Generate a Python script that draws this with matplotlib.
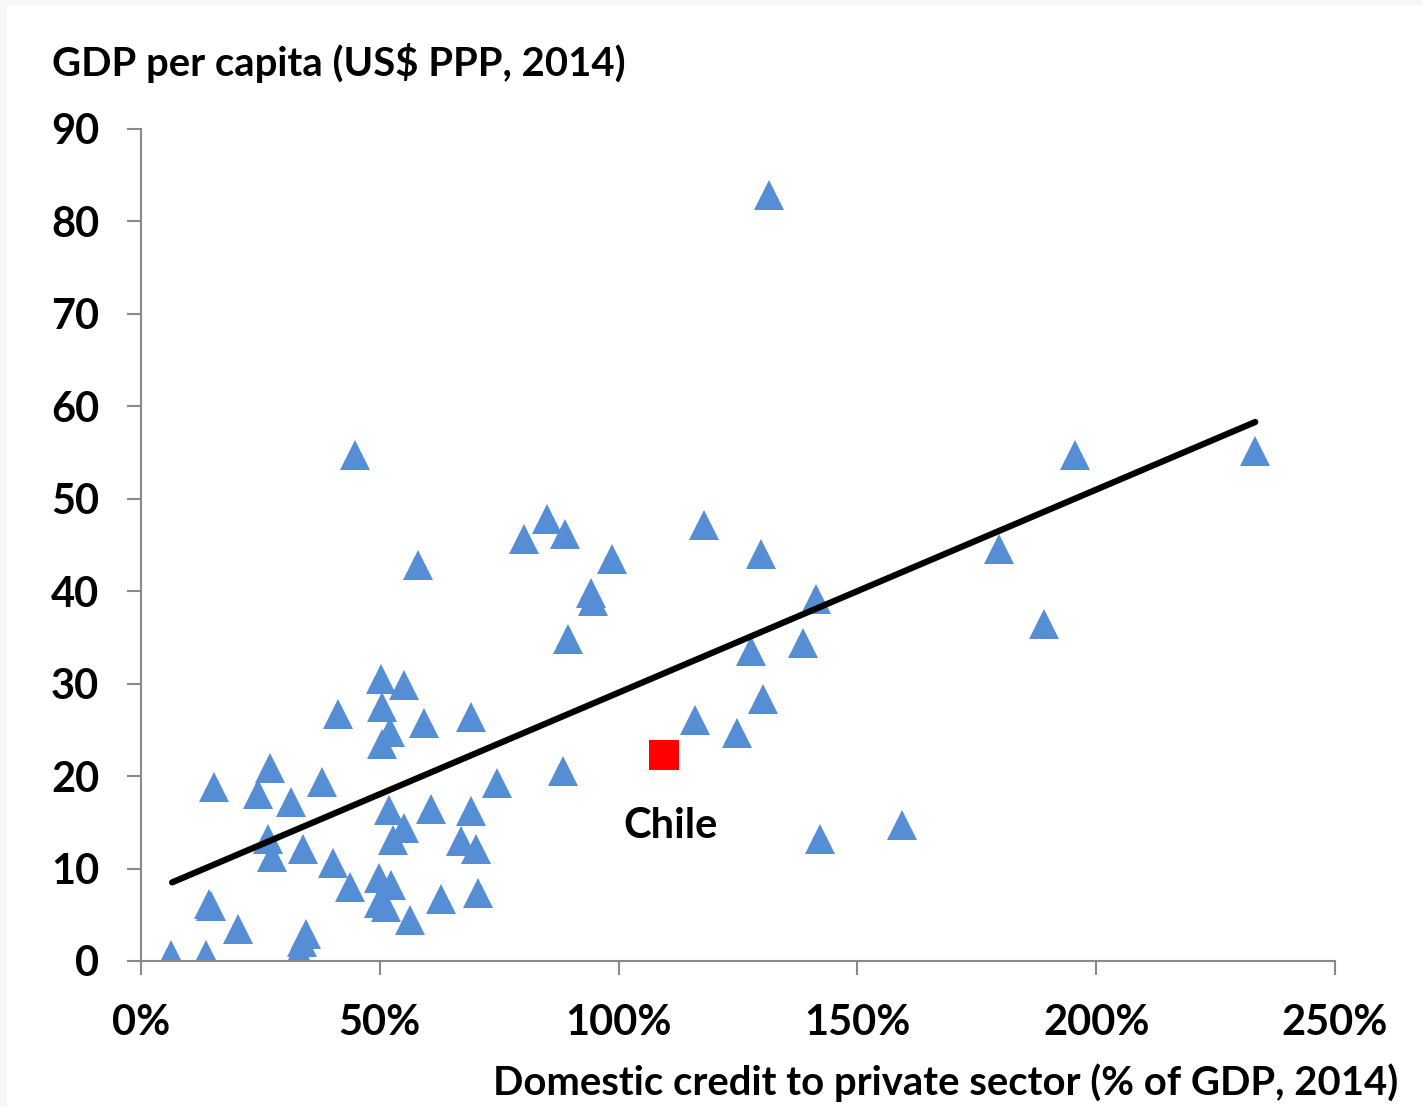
import matplotlib.pyplot as plt
from matplotlib.patches import Rectangle

# Data: domestic credit (% of GDP) vs GDP per capita (thousand US$ PPP)
credit = [6.3, 13.6, 14.2, 14.6, 20.4, 15.3, 24.4, 26.9, 26.5, 27.4,
          31.4, 34.0, 37.9, 33.0, 33.6, 34.5, 40.1, 41.2, 43.8, 44.8,
          49.8, 52.3, 49.8, 51.3, 50.3, 50.4, 50.4, 52.2, 55.1, 52.0,
          52.7, 55.1, 56.4, 57.9, 59.3, 60.7, 62.8, 67.0, 69.1, 69.1,
          70.1, 70.5, 74.5, 80.1, 84.9, 88.8, 89.3, 88.3, 94.2, 94.7,
          98.7, 116.0, 117.9, 124.8, 127.7, 129.8, 130.2, 131.5, 138.7, 141.3,
          142.2, 159.4, 179.6, 189.1, 195.6, 233.3]
gdp = [0.7, 0.6, 6.2, 5.9, 3.5, 18.8, 18.1, 20.9, 13.2, 11.25,
       17.2, 12.1, 19.4, 0.9, 2.0, 2.9, 10.6, 26.7, 8.0, 54.7,
       9.0, 8.2, 6.3, 5.8, 30.5, 27.5, 23.5, 24.8, 29.9, 16.3,
       13.1, 14.4, 4.4, 42.8, 25.7, 16.4, 6.7, 13.0, 26.4, 16.2,
       12.1, 7.4, 19.3, 45.7, 47.8, 46.2, 34.8, 20.6, 39.8, 38.9,
       43.5, 26.1, 47.2, 24.7, 33.5, 44.0, 28.3, 82.9, 34.4, 39.2,
       13.2, 14.7, 44.6, 36.5, 54.7, 55.2]

chile_credit = [109.5]
chile_gdp = [22.3]

trend_x = [6.5, 233.3]
trend_y = [8.5, 58.3]

x_ticks = [0, 50, 100, 150, 200, 250]
y_ticks = [0, 10, 20, 30, 40, 50, 60, 70, 80, 90]

plt.rcParams['font.family'] = ['Lato', 'DejaVu Sans']
plt.rcParams['font.weight'] = 'bold'

fig = plt.figure(figsize=(14.22, 11.07), dpi=100, facecolor='#f7f7f7')
fig.patches.append(Rectangle((7 / 1422, 0), 1, 1 - 5 / 1107, transform=fig.transFigure,
                             facecolor='white', edgecolor='none', zorder=-10))

ax = fig.add_axes([0.0992, 0.1319, 0.8396, 0.7516])
ax.set_facecolor('white')

ax.plot(credit, gdp, linestyle='none', marker='^', markersize=22,
        color='#558ED5', markeredgewidth=0, zorder=2)
ax.plot(chile_credit, chile_gdp, linestyle='none', marker='s', markersize=21,
        color='#FF0000', markeredgewidth=0, zorder=2)
ax.plot(trend_x, trend_y, color='black', linewidth=4.5, solid_capstyle='round', zorder=3)

ax.text(110.8, 14.6, 'Chile', fontsize=30, fontweight='bold', ha='center', va='center')

ax.set_xlim(0, 250)
ax.set_ylim(0, 90)
ax.set_xticks(x_ticks)
ax.set_xticklabels([f'{v}%' for v in x_ticks])
ax.set_yticks(y_ticks)
ax.set_yticklabels([str(v) for v in y_ticks])

for side in ['top', 'right']:
    ax.spines[side].set_visible(False)
for side in ['left', 'bottom']:
    ax.spines[side].set_color('#898989')
    ax.spines[side].set_linewidth(1.5)

ax.tick_params(axis='both', direction='out', length=10, width=1.5, color='#898989',
               labelsize=30)
ax.tick_params(axis='y', pad=20)
ax.tick_params(axis='x', pad=21)
for lbl in ax.get_xticklabels() + ax.get_yticklabels():
    lbl.set_fontweight('bold')

fig.text(52 / 1422, 1 - 63 / 1107, 'GDP per capita (US$ PPP, 2014)', fontsize=28.8,
         fontweight='bold', ha='left', va='center')
fig.text(1398 / 1422, 1 - 1083 / 1107, 'Domestic credit to private sector (% of GDP, 2014)',
         fontsize=28.8, fontweight='bold', ha='right', va='center')

fig.savefig('out.png', dpi=100, facecolor=fig.get_facecolor())
